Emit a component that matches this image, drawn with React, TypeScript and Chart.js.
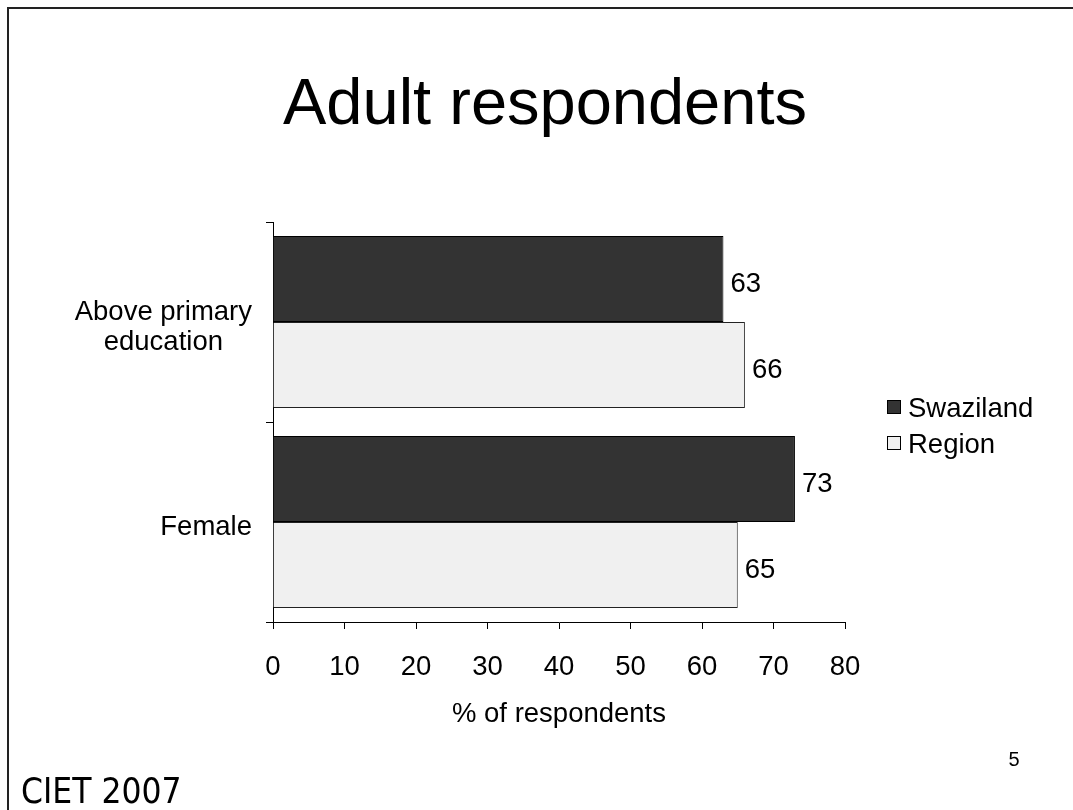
import React, { useEffect, useRef } from 'react';
import { Chart, registerables } from 'chart.js';

Chart.register(...registerables);

const chartTitle = 'Adult respondents';
const categories: string[][] = [['Above primary', 'education'], ['Female']];
const seriesNames = ['Swaziland', 'Region'];
const swazilandValues = [63, 73];
const regionValues = [66, 65];
const xTickValues = [0, 10, 20, 30, 40, 50, 60, 70, 80];
const xAxisTitle = '% of respondents';
const footerText = 'CIET 2007';
const pageNumber = '5';

const seriesColors = ['#333333', '#F0F0F0'];
const FONT = '"Liberation Sans", Arial, sans-serif';
const FS = 27.5;

const decorPlugin = {
  id: 'decor',
  afterDraw(chart: any) {
    const ctx = chart.ctx;
    ctx.save();
    // slide frame
    ctx.strokeStyle = '#222';
    ctx.lineWidth = 2;
    ctx.beginPath();
    ctx.moveTo(8, 810);
    ctx.lineTo(8, 8);
    ctx.lineTo(1073, 8);
    ctx.stroke();

    // title
    ctx.fillStyle = '#000';
    ctx.font = `65px ${FONT}`;
    ctx.textAlign = 'center';
    ctx.textBaseline = 'alphabetic';
    ctx.fillText(chartTitle, 545, 124);

    // footer
    ctx.font = `35px "DejaVu Sans Condensed", "DejaVu Sans", sans-serif`;
    ctx.textAlign = 'left';
    ctx.fillText(footerText, 21, 803);

    // page number
    ctx.font = `20px ${FONT}`;
    ctx.textAlign = 'center';
    ctx.fillText(pageNumber, 1014, 766);

    // category labels (each block right aligned, lines centered)
    const yScale = chart.scales.y;
    ctx.font = `${FS}px ${FONT}`;
    ctx.textBaseline = 'middle';
    ctx.textAlign = 'center';
    const lh = 30;
    categories.forEach((lines, i) => {
      const yc = yScale.getPixelForTick(i);
      const w = Math.max(...lines.map((l) => ctx.measureText(l).width));
      const xc = 252 - w / 2;
      lines.forEach((l, j) => {
        ctx.fillText(l, xc, yc + (j - (lines.length - 1) / 2) * lh + 5);
      });
    });

    // data labels
    ctx.textAlign = 'left';
    ctx.textBaseline = 'middle';
    chart.data.datasets.forEach((ds: any, di: number) => {
      const meta = chart.getDatasetMeta(di);
      meta.data.forEach((el: any, i: number) => {
        ctx.fillText(String(ds.data[i]), el.x + 7, el.y + 5);
      });
    });

    // legend
    seriesNames.forEach((name, i) => {
      const yc = 407 + i * 36;
      ctx.fillStyle = seriesColors[i];
      ctx.fillRect(887, yc - 7, 14, 14);
      ctx.strokeStyle = '#000';
      ctx.lineWidth = 1;
      ctx.strokeRect(887.5, yc - 6.5, 13, 13);
      ctx.fillStyle = '#000';
      ctx.fillText(name, 908, yc + 2);
    });
    ctx.restore();
  },
};

export default function App() {
  const ref = useRef<HTMLCanvasElement | null>(null);
  useEffect(() => {
    if (!ref.current) return;
    const chart = new Chart(ref.current, {
      type: 'bar',
      data: {
        labels: categories.map((c) => c.join(' ')),
        datasets: [
          {
            label: seriesNames[0],
            data: swazilandValues,
            backgroundColor: seriesColors[0],
            borderColor: '#000',
            borderWidth: 1,
            barPercentage: 1,
            categoryPercentage: 0.86,
          },
          {
            label: seriesNames[1],
            data: regionValues,
            backgroundColor: seriesColors[1],
            borderColor: '#222',
            borderWidth: 1,
            barPercentage: 1,
            categoryPercentage: 0.86,
          },
        ],
      },
      options: {
        indexAxis: 'y',
        animation: false,
        responsive: false,
        maintainAspectRatio: false,
        layout: { padding: { top: 222, right: 228, left: 0, bottom: 0 } },
        plugins: {
          legend: { display: false },
          tooltip: { enabled: false },
          title: { display: false },
        },
        scales: {
          x: {
            min: 0,
            max: 80,
            afterFit: (s: any) => {
              s.height = 188;
            },
            afterBuildTicks: (s: any) => {
              s.ticks = xTickValues.map((v) => ({ value: v }));
            },
            ticks: {
              color: '#000',
              font: { family: FONT, size: FS },
              padding: 22,
            },
            grid: {
              display: true,
              drawOnChartArea: false,
              color: '#000',
              tickLength: 7,
            },
            border: { display: true, color: '#000', width: 1 },
            title: {
              display: true,
              text: xAxisTitle,
              color: '#000',
              font: { family: FONT, size: FS, lineHeight: 1.2 },
              padding: { top: 0, bottom: 79 },
            },
          },
          y: {
            afterFit: (s: any) => {
              s.width = 273;
            },
            ticks: { display: false },
            grid: {
              display: true,
              drawOnChartArea: false,
              offset: true,
              color: '#000',
              tickLength: 7,
            },
            border: { display: true, color: '#000', width: 1 },
          },
        },
      },
      plugins: [decorPlugin],
    });
    return () => chart.destroy();
  }, []);
  return (
    <div style={{ position: 'absolute', left: 0, top: 0, width: 1073, height: 810, background: '#fff' }}>
      <canvas ref={ref} width={1073} height={810} style={{ display: 'block', width: 1073, height: 810 }} />
    </div>
  );
}
